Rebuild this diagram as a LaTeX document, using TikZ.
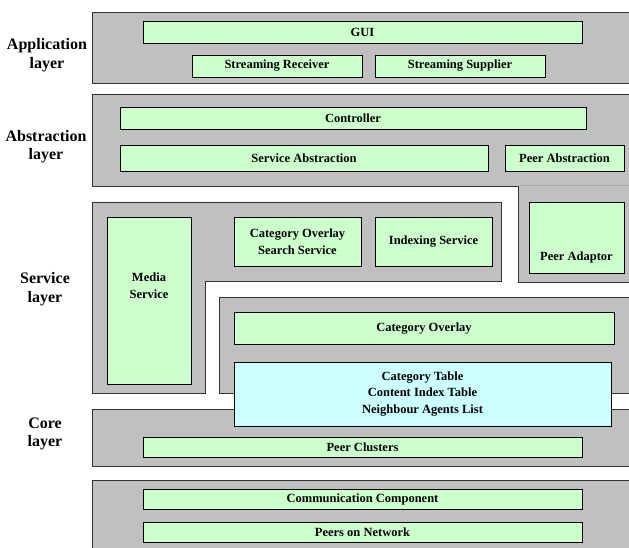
\documentclass[tikz,border=0pt]{standalone}
\usepackage{fontspec}
\setmainfont{Liberation Serif}
\usepackage{tikz}
\definecolor{layergray}{HTML}{C0C0C0}
\definecolor{compgreen}{HTML}{CCFFCC}
\definecolor{tablecyan}{HTML}{CCFFFF}

\begin{document}
\begin{tikzpicture}[x=1pt,y=-1pt,
    layer/.style={fill=layergray, draw=black!80, line width=0.9pt},
    comp/.style={shape=rectangle, draw, fill=compgreen, line width=0.8pt, inner sep=0pt,
        font=\bfseries\fontsize{12.5}{16.5}\selectfont, align=center},
    txt/.style={inner sep=0pt, font=\bfseries\fontsize{12.5}{16.5}\selectfont, align=center},
    side/.style={font=\bfseries\fontsize{16}{18.5}\selectfont, align=center}]
    \clip (0,0) rectangle (629,548);
    \fill[white] (0,0) rectangle (629,548);

    % layer backgrounds
    \draw[layer] (92,12) rectangle (640,83);
    \draw[layer] (92,94) -- (640,94) -- (640,282) -- (518,282) -- (518,186) -- (92,186) -- cycle;
    \draw[black!35, line width=0.5pt] (518.5,185) -- (629,185);
    \draw[layer] (92,202) -- (501,202) -- (501,281) -- (205,281) -- (205,393) -- (92,393) -- cycle;
    \draw[layer] (219,297) rectangle (640,393);
    \draw[layer] (92,409) rectangle (640,466);
    \draw[layer] (92,480) rectangle (640,560);

    % layer names
    \node[side] (applayer) at (47,55) {Application\\layer};
    \node[side] (abslayer) at (46,146.5) {Abstraction\\layer};
    \node[side] (servlayer) at (45,289) {Service\\layer};
    \node[side] (corelayer) at (45,434) {Core\\layer};

    % application layer
    \node[comp, minimum width=439pt, minimum height=22pt] (gui) at (362.5,32) {GUI};
    \node[comp, minimum width=170pt, minimum height=22pt] (receiver) at (277,66) {Streaming Receiver};
    \node[comp, minimum width=170pt, minimum height=22pt] (supplier) at (460,66) {Streaming Supplier};

    % abstraction layer
    \node[comp, minimum width=466pt, minimum height=22pt] (controller) at (353,118) {Controller};
    \node[comp, minimum width=368pt, minimum height=26pt] (servabs) at (304,158) {Service Abstraction};
    \node[comp, minimum width=119pt, minimum height=26pt] (peerabs) at (564.5,158) {Peer Abstraction};
    \node[comp, minimum width=95pt, minimum height=71pt] (adaptor) at (576.5,237.5) {};
    \node[txt] (adaptortext) at (576.5,257) {Peer Adaptor};

    % service layer
    \node[comp, minimum width=84pt, minimum height=167pt] (media) at (149,300.5) {};
    \node[txt] (mediatext) at (149,285.5) {Media\\Service};
    \node[comp, minimum width=127pt, minimum height=49pt] (search) at (297.5,241.5) {Category Overlay\\Search Service};
    \node[comp, minimum width=117pt, minimum height=49pt] (indexing) at (433.5,241.5) {Indexing Service};
    \node[comp, minimum width=380pt, minimum height=32pt] (overlay) at (424,328.5) {Category Overlay};
    \node[comp, fill=tablecyan, minimum width=377pt, minimum height=64pt] (tables) at (422.5,394)
        {Category Table\\Content Index Table\\Neighbour Agents List};

    % core and network
    \node[comp, minimum width=439pt, minimum height=20pt] (clusters) at (362.5,447) {Peer Clusters};
    \node[comp, minimum width=439pt, minimum height=20pt] (comm) at (362.5,499) {Communication Component};
    \node[comp, minimum width=439pt, minimum height=20pt] (peers) at (362.5,532) {Peers on Network};
\end{tikzpicture}
\end{document}
